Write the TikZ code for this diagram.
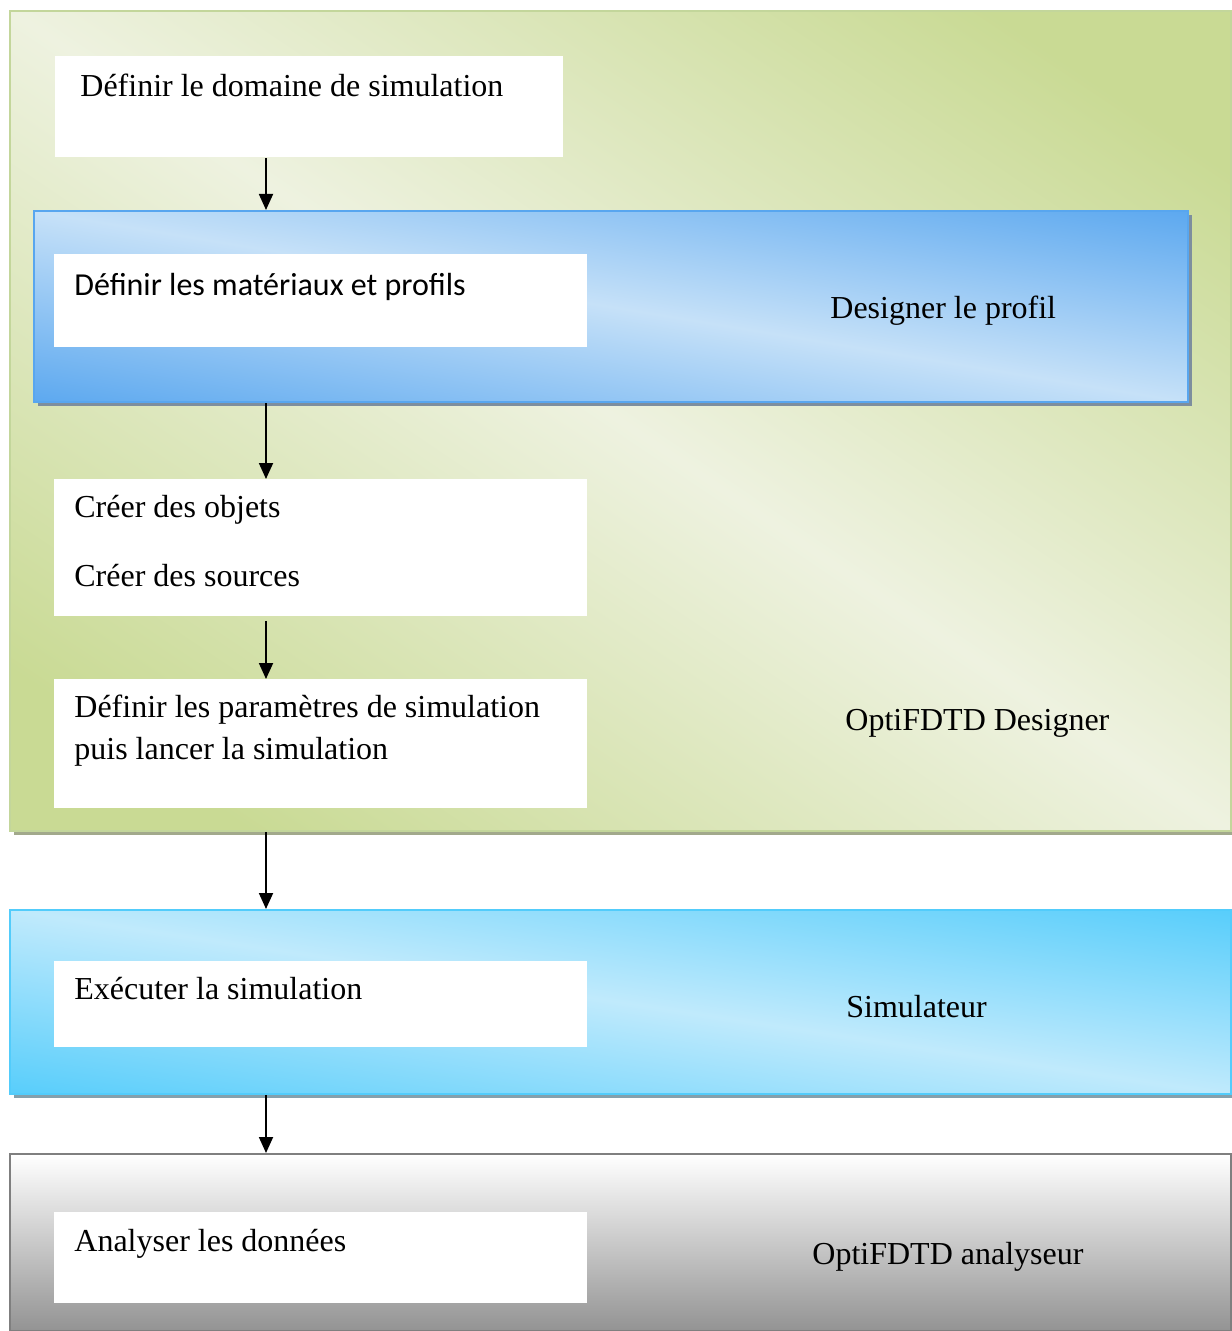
\documentclass[tikz,border=0pt]{standalone}
\usepackage{fontspec}
\setmainfont{Liberation Serif}
\newfontfamily\calibfont{Carlito}
\usetikzlibrary{arrows.meta,shadows}
\definecolor{gL}{HTML}{EEF2E0}
\definecolor{gD}{HTML}{C9DA94}
\definecolor{gB}{HTML}{C3D69B}
\definecolor{gS}{HTML}{A2A98C}
\definecolor{bL}{HTML}{C6E1F8}
\definecolor{bD}{HTML}{58A6EF}
\definecolor{bS}{HTML}{7D8E9E}
\definecolor{cL}{HTML}{C0EAFC}
\definecolor{cD}{HTML}{52CCFB}
\definecolor{cS}{HTML}{84A0AC}
\definecolor{grB}{HTML}{7F7F7F}
\definecolor{grD}{HTML}{939393}
\pgfdeclareverticalshading{greendiag}{100bp}{color(0bp)=(gD); color(22bp)=(gD); color(50bp)=(gL); color(78bp)=(gD); color(100bp)=(gD)}
\pgfdeclareverticalshading{bluediag}{100bp}{color(0bp)=(bD); color(20bp)=(bD); color(50bp)=(bL); color(80bp)=(bD); color(100bp)=(bD)}
\pgfdeclareverticalshading{cyandiag}{100bp}{color(0bp)=(cD); color(20bp)=(cD); color(50bp)=(cL); color(80bp)=(cD); color(100bp)=(cD)}
\begin{document}
\begin{tikzpicture}[x=0.5pt,y=-0.5pt,
  band/.style={rectangle, anchor=north west, inner sep=0pt, shade},
  greenband/.style={band, shading=greendiag, shading angle=-33.9, draw=gB, line width=1pt,
     drop shadow={shadow xshift=1.8pt, shadow yshift=-1.8pt, fill=gS, opacity=1}},
  blueband/.style={band, shading=bluediag, shading angle=-9.4, draw=bD, line width=1.2pt,
     drop shadow={shadow xshift=1.8pt, shadow yshift=-1.8pt, fill=bS, opacity=1}},
  cyanband/.style={band, shading=cyandiag, shading angle=-8.6, draw=cD, line width=1.2pt,
     drop shadow={shadow xshift=1.8pt, shadow yshift=-1.8pt, fill=cS, opacity=1}},
  grayband/.style={rectangle, anchor=north west, inner sep=0pt, top color=white, bottom color=grD, draw=grB, line width=1.2pt},
  wbox/.style={rectangle, anchor=north west, inner sep=0pt, fill=white, draw=none, minimum width=266.5pt},
  txt/.style={anchor=base west, inner sep=0pt, font=\fontsize{16}{19}\selectfont},
  stxt/.style={anchor=base west, inner sep=0pt, font=\calibfont\fontsize{16}{19}\selectfont},
  arr/.style={-{Triangle[length=8pt,width=7pt]}, line width=0.9pt, black}]
\useasboundingbox (0,0) rectangle (1231,1331);
\fill[white] (0,0) rectangle (1231,1331);

% green designer area
\node[greenband, minimum width=610.5pt, minimum height=410pt] (green) at (9,10) {};
\node[blueband, minimum width=577pt, minimum height=95.5pt] (blue) at (33,210) {};

\node[wbox, minimum width=254pt, minimum height=50.5pt] (b1) at (55,56) {};
\node[wbox, minimum height=46.5pt] (b2) at (54,254) {};
\node[wbox, minimum height=68.5pt] (b3) at (54,479) {};
\node[wbox, minimum height=64.5pt] (b4) at (54,679) {};

\node[txt] (t1) at (80,97) {Définir le domaine de simulation};
\node[stxt] (t2) at (74,296) {Définir les matériaux et profils};
\node[txt] (t3a) at (74,517) {Créer des objets};
\node[txt] (t3b) at (74,586) {Créer des sources};
\node[txt] (t4a) at (74,717) {Définir les paramètres de simulation};
\node[txt] (t4b) at (74,759) {puis lancer la simulation};
\node[txt] (l1) at (830,319) {Designer le profil};
\node[txt] (l2) at (845,730) {OptiFDTD Designer};

% simulator
\node[cyanband, minimum width=610.5pt, minimum height=92pt] (cyan) at (9,909) {};
\node[wbox, minimum height=43pt] (b5) at (54,961) {};
\node[txt] (t5) at (74,999) {Exécuter la simulation};
\node[txt] (l3) at (846,1017) {Simulateur};

% analyser
\node[grayband, minimum width=610.5pt, minimum height=88.5pt] (gray) at (9,1153) {};
\node[wbox, minimum height=45.5pt] (b6) at (54,1212) {};
\node[txt] (t6) at (74,1251) {Analyser les données};
\node[txt] (l4) at (812,1264) {OptiFDTD analyseur};

% connectors
\coordinate (ax) at (266,0);
\draw[arr] (b1.south -| ax) -- (blue.north -| ax);
\draw[arr] (blue.south -| ax) -- (b3.north -| ax);
\draw[arr, shorten <=2pt] (b3.south -| ax) -- (b4.north -| ax);
\draw[arr] (green.south -| ax) -- (cyan.north -| ax);
\draw[arr] (cyan.south -| ax) -- (gray.north -| ax);
\end{tikzpicture}
\end{document}
